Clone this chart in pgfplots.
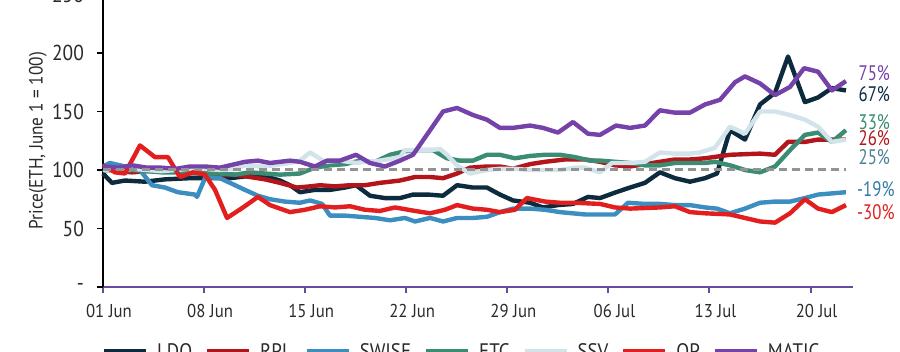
\documentclass[border=0pt]{standalone}
\usepackage{pgfplots}
\pgfplotsset{compat=1.18}
\usepackage{fontspec}
\setmainfont{PT Sans}[FakeStretch=0.9]
\newfontfamily\narrowfont{PT Sans}[FakeStretch=0.8]
\definecolor{cLDO}{HTML}{0D2B3E}
\definecolor{cRPL}{HTML}{B3151B}
\definecolor{cSWISE}{HTML}{3C8DC0}
\definecolor{cETC}{HTML}{3A8C72}
\definecolor{cSSV}{HTML}{D3E3EA}
\definecolor{cOP}{HTML}{E31E1E}
\definecolor{cMATIC}{HTML}{7442A8}
\definecolor{cAxis}{HTML}{6B4A9E}
\definecolor{cSSVlab}{HTML}{4C8096}
\definecolor{cSWlab}{HTML}{2F7BA8}
\definecolor{cText}{HTML}{2A2A2A}
\begin{document}
\begin{tikzpicture}
\begin{axis}[
  scale only axis, width=375pt, height=146.25pt,
  xmin=0, xmax=51.94, ymin=0, ymax=250,
  clip=false,
  axis x line*=bottom, axis y line*=left,
  x axis line style={-, draw=cAxis, line width=1pt},
  y axis line style={-, draw=black, line width=1pt},
  xtick={0,7,14,21,28,35,42,49},
  xticklabels={01 Jun,08 Jun,15 Jun,22 Jun,29 Jun,06 Jul,13 Jul,20 Jul},
  ytick={0,50,100,150,200,250},
  yticklabels={-,50,100,150,200,250},
  tick align=outside,
  major tick length=3pt,
  x tick style={draw=cAxis, line width=1pt},
  y tick style={draw=black, line width=0.8pt},
  /pgf/number format/assume math mode=true,
  xticklabel style={font=\fontsize{9.3}{11}\selectfont, text=cText, yshift=-2pt, xshift=3pt},
  yticklabel style={font=\fontsize{10.8}{12}\selectfont, text=cText, xshift=-3pt},
  ylabel={Price(ETH, June 1 = 100)},
  every axis y label/.style={at={([xshift=-32.5pt]axis description cs:0,0.5)}, anchor=center, rotate=90, font=\fontsize{9.6}{11}\selectfont, text=cText},
  legend columns=7,
  legend style={draw=none, fill=none, inner sep=0pt, at={(axis description cs:-0.003,-0.185)}, anchor=north west,
    font=\fontsize{10.5}{12}\selectfont, text=cText,
    nodes={inner sep=1pt},
    /tikz/every odd column/.append style={column sep=3pt},
    /tikz/every even column/.append style={column sep=5pt}},
  legend image code/.code={\draw[#1, line width=3pt] (0pt,0pt) -- (21pt,0pt);},
  every axis plot/.append style={line width=2.2pt, line join=round, no markers},
]
\addplot[cLDO] coordinates {(0,97) (0.62,89) (1.52,91) (2.9,90) (4.29,92) (6.02,93) (7.06,93) (8.80,93) (10.87,96) (12.26,91) (12.95,87) (13.64,81) (14.68,83) (15.72,83) (16.76,85) (17.52,87) (18.49,78) (19.53,76) (20.57,76) (21.47,79) (22.51,79) (23.55,78) (24.52,87) (25.62,85) (26.59,85) (27.49,79) (28.39,74) (29.57,72) (30.47,68) (31.51,70) (32.55,71) (33.59,77) (34.42,76) (35.53,81) (36.50,85) (37.53,89) (38.57,98) (39.61,93) (40.65,90) (41.69,93) (42.52,97) (43.42,134) (44.46,126) (45.50,156) (46.54,166) (47.44,197) (48.61,158) (49.52,162) (50.48,170) (51.45,168)};
\addlegendentry{LDO}
\addplot[cRPL] coordinates {(0,100) (1.04,99) (2.01,98) (3.05,99) (4.02,100) (5.06,99) (6.02,98) (7.06,97) (8.10,96) (9.14,96) (10.18,94) (11.22,92) (12.26,89) (13.43,85) (14.34,86) (15.03,87) (16.07,86) (17.11,87) (18.14,87) (19.18,89) (20.57,91) (21.61,94) (22.65,94) (23.55,93) (24.52,97) (25.42,102) (26.59,103) (27.49,103) (28.39,101) (29.57,105) (30.61,107) (31.99,109) (33.38,109) (34.42,107) (35.46,104) (36.50,103) (37.53,105) (38.57,107) (39.61,109) (40.65,109) (41.69,110) (43.42,113) (45.50,114) (46.54,113) (47.44,124) (48.61,124) (49.52,126) (50.48,126) (51.45,126)};
\addlegendentry{RPL}
\addplot[cSWISE] coordinates {(0,103) (0.48,106) (1.52,103) (2.56,100) (3.39,87) (4.29,85) (5.19,81) (6.37,79) (6.51,77) (7.10,94) (8.10,93) (8.80,89) (9.83,83) (10.73,78) (11.57,75) (12.60,73) (13.64,72) (14.34,74) (15.17,71) (15.72,61) (16.76,61) (17.80,60) (18.84,59) (19.88,57) (20.91,59) (21.61,56) (22.65,59) (23.55,56) (24.52,59) (25.62,59) (26.59,60) (27.49,64) (28.39,67) (29.57,67) (30.61,66) (31.65,64) (32.50,63) (33.38,62) (34.42,62) (35.46,62) (36.36,72) (37.53,71) (38.57,71) (39.61,70) (40.65,70) (41.69,68) (42.52,67) (43.42,63) (44.46,67) (45.50,72) (46.54,73) (47.58,73) (48.61,76) (49.52,79) (50.48,80) (51.45,81)};
\addlegendentry{SWISE}
\addplot[cETC] coordinates {(0,100) (1.04,99) (2.01,100) (3.05,99) (4.02,98) (5.06,98) (6.02,97) (7.06,97) (8.10,97) (9.14,96) (10.18,98) (11.22,97) (12.26,96) (13.64,97) (14.68,102) (15.72,104) (16.76,105) (17.80,108) (18.84,107) (19.88,113) (20.91,116) (21.75,117) (22.85,117) (23.82,110) (24.72,108) (25.62,108) (26.59,113) (27.49,113) (28.53,110) (29.57,112) (30.61,113) (31.65,113) (32.69,111) (33.73,108) (34.42,108) (35.46,107) (36.50,106) (37.53,104) (38.57,104) (39.61,106) (40.65,106) (41.69,106) (42.38,107) (43.42,104) (44.46,100) (45.50,98) (46.54,103) (47.58,117) (48.61,130) (49.52,132) (50.48,124) (51.45,134)};
\addlegendentry{ETC}
\addplot[cSSV] coordinates {(0,100) (1.04,99) (2.01,101) (3.05,100) (4.02,99) (5.06,100) (6.02,101) (7.06,101) (8.10,100) (9.14,101) (9.83,104) (10.87,103) (11.91,104) (12.95,106) (13.64,108) (14.34,115) (15.37,107) (16.41,108) (17.52,106) (18.14,107) (19.18,108) (20.57,111) (20.91,117) (21.61,117) (22.65,117) (23.34,118) (23.82,113) (24.52,104) (25.42,97) (26.59,100) (27.49,101) (28.53,101) (29.57,100) (30.61,100) (31.65,100) (32.69,102) (33.38,102) (34.42,98) (35.25,106) (36.50,106) (37.53,107) (38.57,115) (39.61,114) (40.65,114) (41.34,115) (42.38,119) (43.42,137) (44.46,131) (45.50,150) (46.54,150) (47.58,147) (48.61,143) (49.52,137) (50.48,124) (51.45,126)};
\addlegendentry{SSV}
\addplot[cOP] coordinates {(0,104) (0.83,98) (1.52,97) (2.56,121) (3.60,111) (4.50,111) (5.33,94) (6.23,98) (7.06,96) (7.76,83) (8.59,59) (9.70,68) (10.73,77) (11.57,70) (12.95,64) (13.99,66) (15.03,69) (16.07,68) (17.11,69) (18.14,66) (19.18,65) (20.22,68) (21.61,65) (22.65,63) (23.68,66) (24.52,70) (25.62,67) (26.59,66) (27.49,64) (28.53,66) (29.36,76) (30.61,73) (31.65,72) (32.69,72) (34.42,71) (35.46,68) (36.50,67) (38.57,68) (39.61,69) (40.65,64) (41.69,63) (43.42,62) (44.46,59) (45.50,56) (46.54,55) (47.58,63) (48.61,75) (49.52,67) (50.48,64) (51.45,70)};
\addlegendentry{OP}
\addplot[cMATIC] coordinates {(0,103) (1.04,102) (2.01,104) (3.05,102) (4.02,102) (5.06,101) (6.02,103) (7.06,103) (8.10,102) (8.80,104) (9.83,107) (10.73,108) (11.57,106) (12.95,108) (13.64,107) (14.68,103) (15.51,108) (16.41,108) (17.52,113) (18.49,106) (19.53,103) (20.57,108) (21.47,113) (22.65,134) (23.55,150) (24.52,153) (25.62,147) (26.59,143) (27.49,136) (28.39,136) (29.57,138) (30.47,136) (31.51,132) (32.55,141) (33.59,131) (34.42,130) (35.53,138) (36.50,136) (37.53,138) (38.57,151) (39.61,149) (40.65,149) (41.69,156) (42.73,160) (43.77,175) (44.46,180) (45.50,174) (46.54,164) (47.58,171) (48.55,187) (49.52,184) (50.48,168) (51.45,176)};
\addlegendentry{MATIC}
\addplot[draw=gray!85, line width=1.5pt, dash pattern=on 4pt off 2.5pt, forget plot] coordinates {(0,100) (51.45,100)};
\begin{scope}[every node/.style={anchor=west, inner sep=0pt, font=\narrowfont\fontsize{10.5}{12}\selectfont}]
\node[text=cMATIC] at (axis cs:52.3,183) {75\%};
\node[text=cLDO] at (axis cs:52.3,165) {67\%};
\node[text=cETC] at (axis cs:52.3,141) {33\%};
\node[text=cRPL] at (axis cs:52.3,127) {26\%};
\node[text=cSSVlab] at (axis cs:52.3,111) {25\%};
\node[text=cSWlab] at (axis cs:52.2,84) {-19\%};
\node[text=cOP] at (axis cs:52.2,64) {-30\%};
\end{scope}
\end{axis}
\pgfresetboundingbox
\path[use as bounding box] (-51.5pt,-32.5pt) rectangle (398.5pt,143.5pt);
\end{tikzpicture}
\end{document}
